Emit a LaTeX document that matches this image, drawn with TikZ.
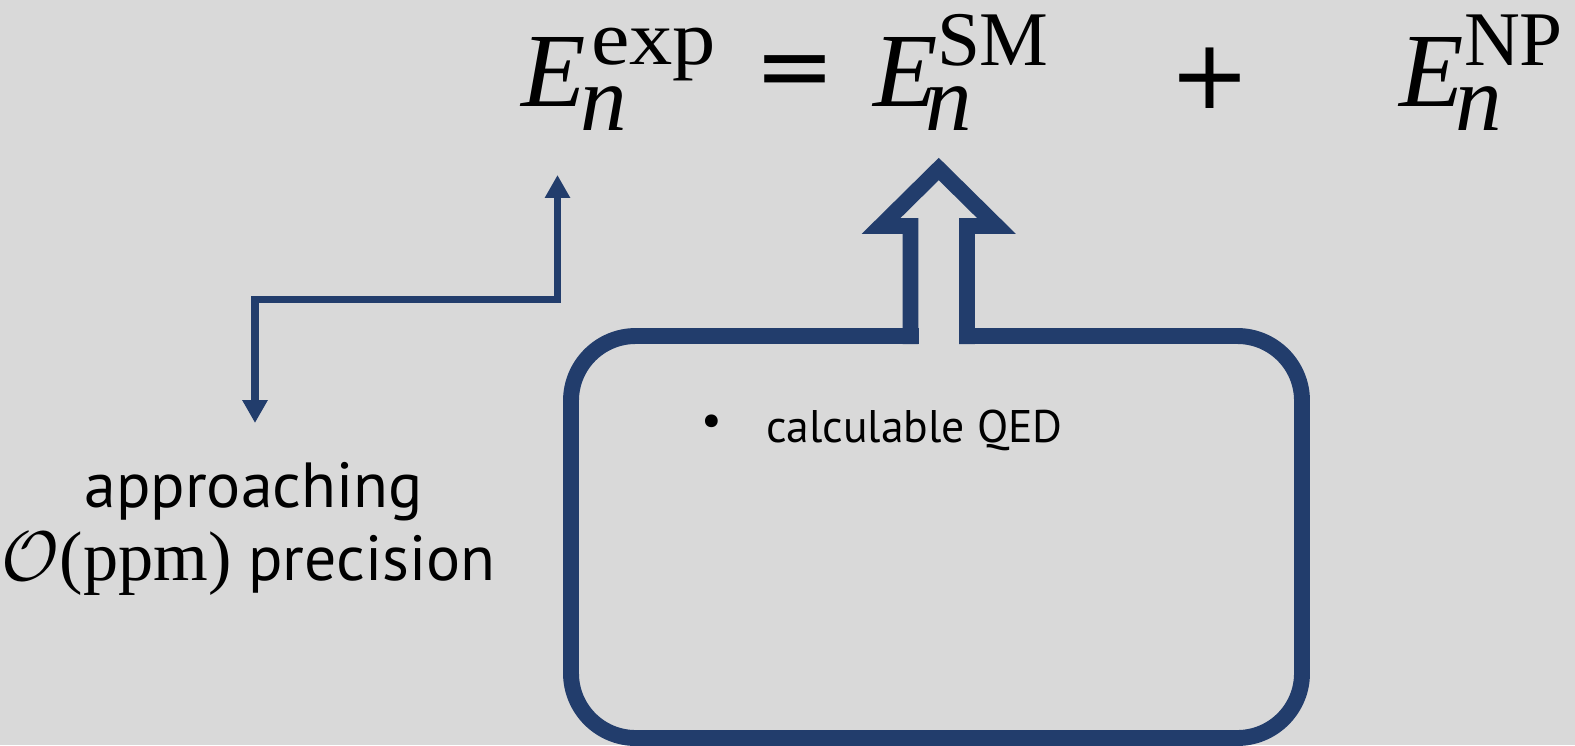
\RequirePackage{fix-cm}
\documentclass[tikz,border=0pt]{standalone}
\usepackage{fontspec}
\usetikzlibrary{arrows.meta}
\newfontfamily\sansf{PT Sans}
\newfontfamily\serif{Liberation Serif}
\newfontfamily\serifwide[FakeStretch=1.12]{Liberation Serif}
\newfontfamily\symf{DejaVu Sans}
\definecolor{navy}{RGB}{34,61,108}
\definecolor{bg}{RGB}{217,217,217}
\begin{document}
\begin{tikzpicture}[x=0.02cm,y=-0.02cm,
  txt/.style={inner sep=0pt, outer sep=0pt, anchor=base west},
  bigE/.style={txt, font=\serif\itshape\fontsize{60}{60}\selectfont},
  supx/.style={txt, font=\serif\fontsize{44}{44}\selectfont},
  subn/.style={txt, font=\serif\itshape\fontsize{53}{53}\selectfont},
  op/.style={inner sep=0pt, outer sep=0pt, font=\symf\fontsize{55}{55}\selectfont},
  label/.style={inner sep=0pt, outer sep=0pt, anchor=base, font=\sansf\fontsize{36.3}{40}\selectfont},
  boxtext/.style={inner sep=0pt, outer sep=0pt, font=\sansf\fontsize{26}{30}\selectfont},
  navyline/.style={draw=navy, line width=9.07pt},
  thinarrow/.style={draw=navy, line width=4.54pt, line join=miter,
    arrows={Triangle[width=13.6pt,length=13pt]-Triangle[width=13.6pt,length=13pt]}},
]
\useasboundingbox (0,0) rectangle (1575,745);
\fill[bg] (0,0) rectangle (1575,745);

% equation
\node[bigE] (E1) at (521,106) {E};
\node[supx, font=\serifwide\fontsize{44}{44}\selectfont] (sup1) at (591,64) {exp};
\node[subn] (n1) at (580,130) {n};
\node[op] (eq) at (795,78) {=};
\node[bigE] (E2) at (873,106) {E};
\node[supx] (sup2) at (937,65) {SM};
\node[subn] (n2) at (925,130) {n};
\node[op] (plus) at (1210,78) {+};
\node[bigE] (E3) at (1399,106) {E};
\node[supx] (sup3) at (1464,65) {NP};
\node[subn] (n3) at (1455,130) {n};

% left label
\node[label] (app1) at (253.5,507) {approaching};
\node[label] (app2) at (248.5,580) {\fontsize{40}{40}\selectfont$\mathcal{O}${\serif(ppm)}\fontsize{36.3}{40}\selectfont{} precision};

% thin connector
\coordinate (expfoot) at (557.5,175);
\coordinate (bend) at (557.5,299.5);
\coordinate (apptop) at (255,423);
\draw[thinarrow] (expfoot) -- (bend) -| (apptop);

% box with hollow arrow
\draw[navyline, rounded corners=36.85pt] (571,336) rectangle (1302,738);
\fill[bg] (918.5,326) rectangle (959,346);
\draw[navyline, line join=miter] (910.5,344) -- (910.5,226) -- (881,226) -- (938.75,169) -- (996.5,226) -- (967,226) -- (967,344);

\node[boxtext, anchor=center] (bul) at (712,425) {•};
\node[boxtext, anchor=base west] (qed) at (766,442) {calculable QED};
\end{tikzpicture}
\end{document}
